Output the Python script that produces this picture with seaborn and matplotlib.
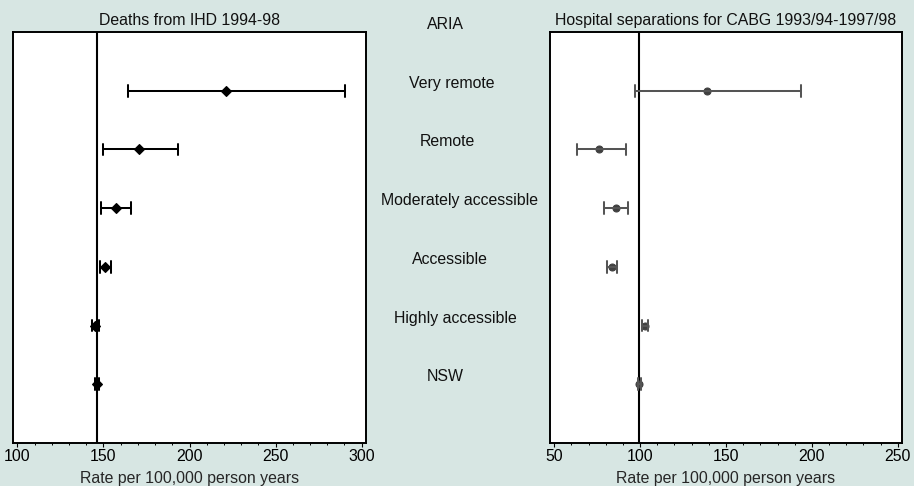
import numpy as np
import pandas as pd
import matplotlib
matplotlib.use("Agg")
import matplotlib.pyplot as plt
import matplotlib.transforms as mtransforms
from matplotlib.ticker import MultipleLocator
import seaborn as sns

# ARIA remoteness categories, top to bottom
categories = ["Very remote", "Remote", "Moderately accessible",
              "Accessible", "Highly accessible", "NSW"]
header = "ARIA"

# Deaths from IHD 1994-98, rate per 100,000 person years with 95% CI
ihd_rate = [221.2, 170.5, 157.3, 150.9, 144.9, 146.5]
ihd_lower = [164.5, 149.6, 148.8, 148.0, 143.2, 145.3]
ihd_upper = [290.5, 193.5, 166.0, 154.3, 147.3, 147.7]

# Hospital separations for CABG 1993/94-1997/98
cabg_rate = [139.1, 76.2, 85.8, 83.8, 102.6, 99.5]
cabg_lower = [97.2, 63.0, 78.9, 80.9, 101.0, 98.5]
cabg_upper = [193.4, 91.6, 92.7, 86.7, 104.3, 100.5]

ihd_ticks = [100, 150, 200, 250, 300]
cabg_ticks = [50, 100, 150, 200, 250]

titles = ["Deaths from IHD 1994-98", "Hospital separations for CABG 1993/94-1997/98"]
xlabel = "Rate per 100,000 person years"


def long_table(rate, lower, upper):
    rows = []
    for cat, lo, est, hi in zip(categories, lower, rate, upper):
        for v in (lo, est, hi):
            rows.append({"area": cat, "rate": v})
    return pd.DataFrame(rows)


sns.set_theme(style="white")
plt.rcParams["font.family"] = ["Liberation Sans", "DejaVu Sans"]
plt.rcParams["font.size"] = 11.4
plt.rcParams["text.color"] = "#111111"

bg = "#d7e6e3"
fig = plt.figure(figsize=(9.14, 4.86), dpi=100, facecolor=bg)
ax1 = fig.add_axes([13 / 914, 43 / 486, 353 / 914, 411 / 486])
ax2 = fig.add_axes([550 / 914, 43 / 486, 352 / 914, 411 / 486])

panels = [
    (ax1, long_table(ihd_rate, ihd_lower, ihd_upper), ihd_rate, ihd_ticks, "D", 4.9, "black", "black"),
    (ax2, long_table(cabg_rate, cabg_lower, cabg_upper), cabg_rate, cabg_ticks, "o", 5.0, "#404040", "#555555"),
]

for (ax, df, rate, ticks, marker, ms, color, ecolor), title in zip(panels, titles):
    ax.set_facecolor("white")
    sns.pointplot(
        data=df, x="rate", y="area", order=categories, orient="h",
        estimator="median", errorbar=lambda v: (v.min(), v.max()),
        color=color, marker=marker, markersize=ms, markeredgewidth=0.8,
        linestyle="none", capsize=0.2,
        err_kws={"linewidth": 1.45, "color": ecolor}, ax=ax,
    )
    # vertical reference line at the state (NSW) rate
    ax.axvline(rate[categories.index("NSW")], color="black", linewidth=1.5, zorder=1)

    span = ticks[-1] - ticks[0]
    ax.set_xlim(ticks[0] - 0.0125 * span, ticks[-1] + 0.0125 * span)
    ax.set_ylim(len(categories), -1)
    ax.set_yticks([])
    ax.set_ylabel("")
    ax.set_xticks(ticks)
    ax.xaxis.set_minor_locator(MultipleLocator(10))
    ax.tick_params(axis="x", which="major", direction="out", length=3.0, width=0.8,
                   pad=1.6, colors="black", labelsize=11.4, bottom=True)
    ax.tick_params(axis="x", which="minor", direction="out", length=1.6, width=0.7,
                   colors="black", bottom=True)
    ax.set_xlabel(xlabel, fontsize=11.4, labelpad=5)
    ax.set_title(title, fontsize=11.4, pad=4.7)
    ax.grid(False)
    for sp in ax.spines.values():
        sp.set_visible(True)
        sp.set_color("black")
        sp.set_linewidth(1.4)

# Category names in the gap between the two panels; longer names sit a
# little further right, so the anchor moves with the rendered width.
trans = mtransforms.blended_transform_factory(fig.transFigure, ax1.transData)
labels = [ax1.text(0, -1 - 0.05, header, transform=trans, ha="center",
                   va="baseline", fontsize=11.4, clip_on=False)]
for i, cat in enumerate(categories):
    labels.append(ax1.text(0, i - 0.05, cat, transform=trans, ha="center",
                           va="baseline", fontsize=11.4, clip_on=False))
fig.canvas.draw()
renderer = fig.canvas.get_renderer()
fig_w = fig.bbox.width
for t in labels:
    w = t.get_window_extent(renderer).width
    t.set_x((441 + 0.12 * w) / fig_w)

fig.savefig("out.png", dpi=100, facecolor=bg)
